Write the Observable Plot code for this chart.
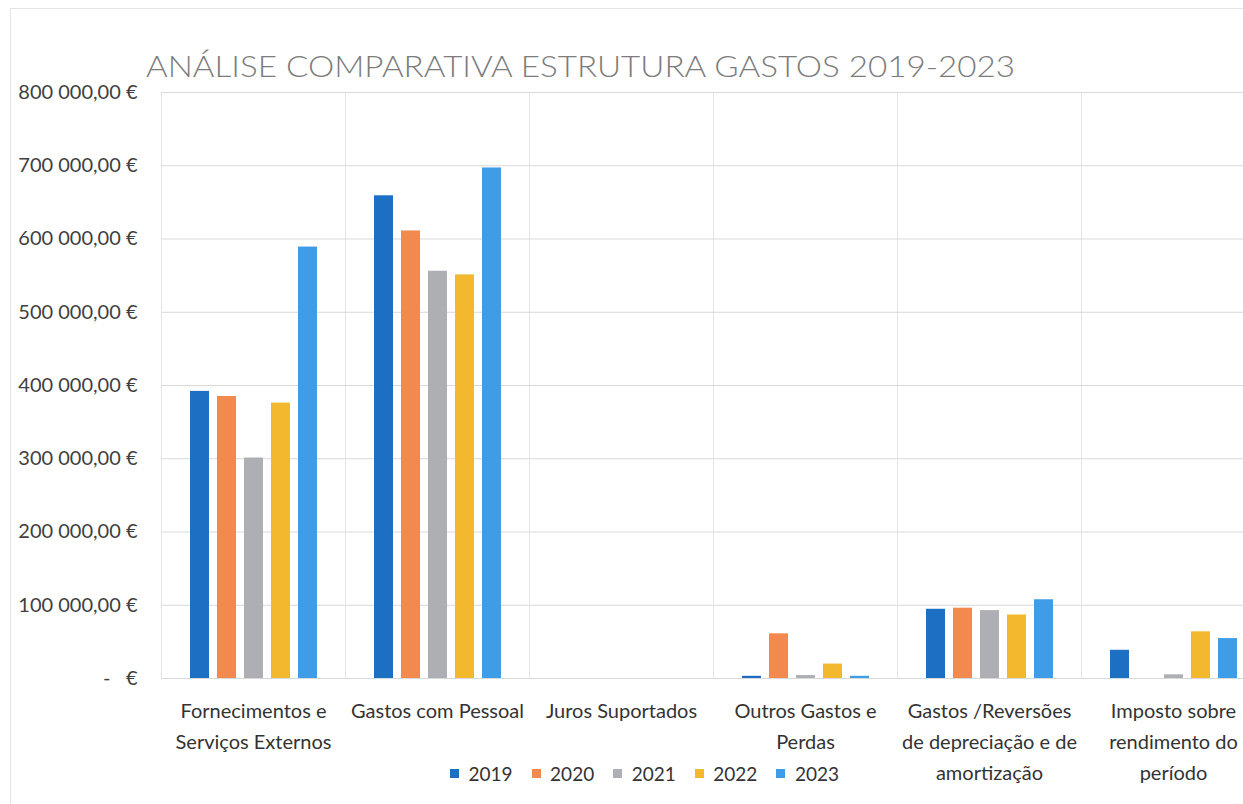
<!DOCTYPE html>
<html>
<head>
<meta charset="utf-8">
<script src="https://cdn.jsdelivr.net/npm/d3@7"></script>
<script src="https://cdn.jsdelivr.net/npm/@observablehq/plot@0.6"></script>
<style>
  html, body { margin: 0; padding: 0; background: #fff; overflow: hidden; }
  #wrap { position: relative; width: 1243px; height: 804px; overflow: hidden; background: #fff; }
  #border { position: absolute; left: 10px; top: 8px; width: 1250px; height: 810px; border: 1px solid #e4e4e4; box-sizing: border-box; }
  #chart { position: absolute; left: 0; top: 0; width: 1265px; height: 804px; }
  #chart svg { white-space: pre; max-width: none !important; }
  #title { position: absolute; left: 0; top: 0; }
  #legend { position: absolute; left: 450px; top: 757px; }
</style>
</head>
<body>
<div id="wrap">
  <div id="border"></div>
  <div id="chart"></div>
  <svg id="title" width="1243" height="100">
    <text x="146" y="77" textLength="869" lengthAdjust="spacingAndGlyphs"
      style="font-family: Lato, 'Open Sans', sans-serif; font-size: 30px; font-weight: 300; fill: #7c7c7c;">ANÁLISE COMPARATIVA ESTRUTURA GASTOS 2019-2023</text>
  </svg>
  <div id="legend"></div>
</div>
<script>
// ---- Data ----
const categories = [
  "Fornecimentos e Serviços Externos",
  "Gastos com Pessoal",
  "Juros Suportados",
  "Outros Gastos e Perdas",
  "Gastos /Reversões de depreciação e de amortização",
  "Imposto sobre rendimento do período"
];
const categoryLabels = [
  "Fornecimentos e\nServiços Externos",
  "Gastos com Pessoal",
  "Juros Suportados",
  "Outros Gastos e\nPerdas",
  "Gastos /Reversões\nde depreciação e de\namortização",
  "Imposto sobre\nrendimento do\nperíodo"
];
const years = ["2019", "2020", "2021", "2022", "2023"];
const v2019 = [392000, 659000, 0, 3000, 94500, 38500];
const v2020 = [385000, 611000, 0, 61000, 96000, 0];
const v2021 = [301000, 556000, 0, 4000, 92700, 5000];
const v2022 = [376000, 551000, 0, 19700, 86700, 63700];
const v2023 = [589000, 697000, 0, 3000, 107500, 54500];
const yTicks = [0, 100000, 200000, 300000, 400000, 500000, 600000, 700000, 800000];
const colors = ["#1d6fc4", "#f28a50", "#adafb5", "#f3b82e", "#3e9de6"];

// ---- Build table ----
const series = [v2019, v2020, v2021, v2022, v2023];
const data = [];
categories.forEach((c, i) => {
  years.forEach((y, j) => {
    data.push({category: c, year: y, value: series[j][i]});
  });
});
const labelOf = new Map(categories.map((c, i) => [c, categoryLabels[i]]));

const locale = d3.formatLocale({decimal: ",", thousands: " ", grouping: [3], currency: ["", " €"]});
const fmt = locale.format(",.2f");
const yFormat = d => d === 0 ? "-   €" : fmt(d) + " €";

const font = "Lato, 'Open Sans', sans-serif";

const chart = Plot.plot({
  width: 1265,
  height: 804,
  marginLeft: 161,
  marginRight: 0,
  marginTop: 92,
  marginBottom: 126,
  style: {fontFamily: font, fontSize: "20px", background: "transparent", overflow: "visible"},
  fx: {domain: categories, padding: 0, label: null},
  x: {domain: years, paddingInner: 0.314, paddingOuter: 0.98, axis: null},
  y: {domain: [0, 800000], label: null},
  color: {domain: years, range: colors},
  marks: [
    Plot.frame({stroke: "#e4e4e4"}),
    Plot.gridY(yTicks, {stroke: "#d9d9d9", strokeOpacity: 1}),
    Plot.barY(data, {fx: "category", x: "year", y: "value", fill: "year"}),
    Plot.axisY(yTicks, {tickSize: 0, tickPadding: 24, tickFormat: yFormat, fill: "#3f3f3f", fontSize: 20, label: null}),
    Plot.axisFx({anchor: "bottom", tickSize: 0, tickPadding: 17, tickFormat: d => labelOf.get(d),
                 fill: "#333", fontSize: 20, lineHeight: 1.55, label: null})
  ]
});
document.getElementById("chart").appendChild(chart);

const legend = Plot.legend({
  color: {domain: years, range: colors},
  legend: "swatches",
  swatchSize: 9,
  style: {fontFamily: font, fontSize: "19px", color: "#333"}
});
document.getElementById("legend").appendChild(legend);
</script>
</body>
</html>
